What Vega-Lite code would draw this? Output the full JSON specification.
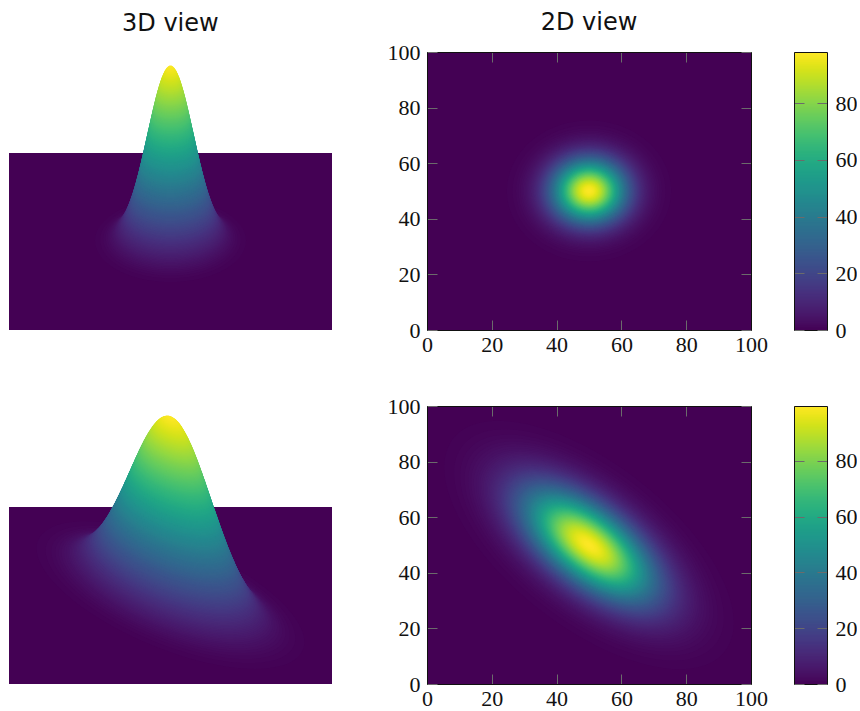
{"$schema":"https://vega.github.io/schema/vega-lite/v6.json","background":"white","padding":{"left":9,"top":11,"right":0,"bottom":0},"spacing":40,"resolve":{"scale":{"size":"independent","color":"independent"}},"config":{"view":{"stroke":null},"axis":{"labelFont":"Liberation Serif","labelFontSize":22,"labelColor":"#111","tickColor":"#6b6b6b","tickSize":-10,"tickWidth":1,"domainColor":"#111","domainWidth":1,"grid":false,"labelOverlap":false,"labelBound":false,"labelFlush":false,"labelPadding":17},"title":{"font":"DejaVu Sans","fontSize":24,"fontWeight":"normal","color":"#111","offset":6}},"datasets":{"plane":[{"x":0,"x2":100,"y":0,"y2":100}],"plane3a":[{"x":0,"x2":100,"y":-49.4,"y2":49.4}],"plane3b":[{"x":0,"x2":100,"y":-49,"y2":49.6}],"levels":[{"x":50,"y":50,"z":0.5},{"x":50,"y":50,"z":1},{"x":50,"y":50,"z":1.5},{"x":50,"y":50,"z":2},{"x":50,"y":50,"z":2.5},{"x":50,"y":50,"z":3},{"x":50,"y":50,"z":3.5},{"x":50,"y":50,"z":4},{"x":50,"y":50,"z":4.5},{"x":50,"y":50,"z":5},{"x":50,"y":50,"z":5.5},{"x":50,"y":50,"z":6},{"x":50,"y":50,"z":6.5},{"x":50,"y":50,"z":7},{"x":50,"y":50,"z":7.5},{"x":50,"y":50,"z":8},{"x":50,"y":50,"z":8.5},{"x":50,"y":50,"z":9},{"x":50,"y":50,"z":9.5},{"x":50,"y":50,"z":10},{"x":50,"y":50,"z":10.5},{"x":50,"y":50,"z":11},{"x":50,"y":50,"z":11.5},{"x":50,"y":50,"z":12},{"x":50,"y":50,"z":12.5},{"x":50,"y":50,"z":13},{"x":50,"y":50,"z":13.5},{"x":50,"y":50,"z":14},{"x":50,"y":50,"z":14.5},{"x":50,"y":50,"z":15},{"x":50,"y":50,"z":15.5},{"x":50,"y":50,"z":16},{"x":50,"y":50,"z":16.5},{"x":50,"y":50,"z":17},{"x":50,"y":50,"z":17.5},{"x":50,"y":50,"z":18},{"x":50,"y":50,"z":18.5},{"x":50,"y":50,"z":19},{"x":50,"y":50,"z":19.5},{"x":50,"y":50,"z":20},{"x":50,"y":50,"z":20.5},{"x":50,"y":50,"z":21},{"x":50,"y":50,"z":21.5},{"x":50,"y":50,"z":22},{"x":50,"y":50,"z":22.5},{"x":50,"y":50,"z":23},{"x":50,"y":50,"z":23.5},{"x":50,"y":50,"z":24},{"x":50,"y":50,"z":24.5},{"x":50,"y":50,"z":25},{"x":50,"y":50,"z":25.5},{"x":50,"y":50,"z":26},{"x":50,"y":50,"z":26.5},{"x":50,"y":50,"z":27},{"x":50,"y":50,"z":27.5},{"x":50,"y":50,"z":28},{"x":50,"y":50,"z":28.5},{"x":50,"y":50,"z":29},{"x":50,"y":50,"z":29.5},{"x":50,"y":50,"z":30},{"x":50,"y":50,"z":30.5},{"x":50,"y":50,"z":31},{"x":50,"y":50,"z":31.5},{"x":50,"y":50,"z":32},{"x":50,"y":50,"z":32.5},{"x":50,"y":50,"z":33},{"x":50,"y":50,"z":33.5},{"x":50,"y":50,"z":34},{"x":50,"y":50,"z":34.5},{"x":50,"y":50,"z":35},{"x":50,"y":50,"z":35.5},{"x":50,"y":50,"z":36},{"x":50,"y":50,"z":36.5},{"x":50,"y":50,"z":37},{"x":50,"y":50,"z":37.5},{"x":50,"y":50,"z":38},{"x":50,"y":50,"z":38.5},{"x":50,"y":50,"z":39},{"x":50,"y":50,"z":39.5},{"x":50,"y":50,"z":40},{"x":50,"y":50,"z":40.5},{"x":50,"y":50,"z":41},{"x":50,"y":50,"z":41.5},{"x":50,"y":50,"z":42},{"x":50,"y":50,"z":42.5},{"x":50,"y":50,"z":43},{"x":50,"y":50,"z":43.5},{"x":50,"y":50,"z":44},{"x":50,"y":50,"z":44.5},{"x":50,"y":50,"z":45},{"x":50,"y":50,"z":45.5},{"x":50,"y":50,"z":46},{"x":50,"y":50,"z":46.5},{"x":50,"y":50,"z":47},{"x":50,"y":50,"z":47.5},{"x":50,"y":50,"z":48},{"x":50,"y":50,"z":48.5},{"x":50,"y":50,"z":49},{"x":50,"y":50,"z":49.5},{"x":50,"y":50,"z":50},{"x":50,"y":50,"z":50.5},{"x":50,"y":50,"z":51},{"x":50,"y":50,"z":51.5},{"x":50,"y":50,"z":52},{"x":50,"y":50,"z":52.5},{"x":50,"y":50,"z":53},{"x":50,"y":50,"z":53.5},{"x":50,"y":50,"z":54},{"x":50,"y":50,"z":54.5},{"x":50,"y":50,"z":55},{"x":50,"y":50,"z":55.5},{"x":50,"y":50,"z":56},{"x":50,"y":50,"z":56.5},{"x":50,"y":50,"z":57},{"x":50,"y":50,"z":57.5},{"x":50,"y":50,"z":58},{"x":50,"y":50,"z":58.5},{"x":50,"y":50,"z":59},{"x":50,"y":50,"z":59.5},{"x":50,"y":50,"z":60},{"x":50,"y":50,"z":60.5},{"x":50,"y":50,"z":61},{"x":50,"y":50,"z":61.5},{"x":50,"y":50,"z":62},{"x":50,"y":50,"z":62.5},{"x":50,"y":50,"z":63},{"x":50,"y":50,"z":63.5},{"x":50,"y":50,"z":64},{"x":50,"y":50,"z":64.5},{"x":50,"y":50,"z":65},{"x":50,"y":50,"z":65.5},{"x":50,"y":50,"z":66},{"x":50,"y":50,"z":66.5},{"x":50,"y":50,"z":67},{"x":50,"y":50,"z":67.5},{"x":50,"y":50,"z":68},{"x":50,"y":50,"z":68.5},{"x":50,"y":50,"z":69},{"x":50,"y":50,"z":69.5},{"x":50,"y":50,"z":70},{"x":50,"y":50,"z":70.5},{"x":50,"y":50,"z":71},{"x":50,"y":50,"z":71.5},{"x":50,"y":50,"z":72},{"x":50,"y":50,"z":72.5},{"x":50,"y":50,"z":73},{"x":50,"y":50,"z":73.5},{"x":50,"y":50,"z":74},{"x":50,"y":50,"z":74.5},{"x":50,"y":50,"z":75},{"x":50,"y":50,"z":75.5},{"x":50,"y":50,"z":76},{"x":50,"y":50,"z":76.5},{"x":50,"y":50,"z":77},{"x":50,"y":50,"z":77.5},{"x":50,"y":50,"z":78},{"x":50,"y":50,"z":78.5},{"x":50,"y":50,"z":79},{"x":50,"y":50,"z":79.5},{"x":50,"y":50,"z":80},{"x":50,"y":50,"z":80.5},{"x":50,"y":50,"z":81},{"x":50,"y":50,"z":81.5},{"x":50,"y":50,"z":82},{"x":50,"y":50,"z":82.5},{"x":50,"y":50,"z":83},{"x":50,"y":50,"z":83.5},{"x":50,"y":50,"z":84},{"x":50,"y":50,"z":84.5},{"x":50,"y":50,"z":85},{"x":50,"y":50,"z":85.5},{"x":50,"y":50,"z":86},{"x":50,"y":50,"z":86.5},{"x":50,"y":50,"z":87},{"x":50,"y":50,"z":87.5},{"x":50,"y":50,"z":88},{"x":50,"y":50,"z":88.5},{"x":50,"y":50,"z":89},{"x":50,"y":50,"z":89.5},{"x":50,"y":50,"z":90},{"x":50,"y":50,"z":90.5},{"x":50,"y":50,"z":91},{"x":50,"y":50,"z":91.5},{"x":50,"y":50,"z":92},{"x":50,"y":50,"z":92.5},{"x":50,"y":50,"z":93},{"x":50,"y":50,"z":93.5},{"x":50,"y":50,"z":94},{"x":50,"y":50,"z":94.5},{"x":50,"y":50,"z":95},{"x":50,"y":50,"z":95.5},{"x":50,"y":50,"z":96},{"x":50,"y":50,"z":96.5},{"x":50,"y":50,"z":97},{"x":50,"y":50,"z":97.5},{"x":50,"y":50,"z":98},{"x":50,"y":50,"z":98.5},{"x":50,"y":50,"z":99},{"x":50,"y":50,"z":99.5},{"x":50,"y":50,"z":99.7}]},"vconcat":[{"bounds":"flush","spacing":43,"resolve":{"scale":{"size":"independent","color":"independent"}},"hconcat":[{"width":375,"height":278,"title":{"text":"3D view","anchor":"start","dx":113,"dy":-10},"layer":[{"data":{"name":"plane3a"},"mark":{"type":"rect","fill":"#440154"},"encoding":{"x":{"field":"x","type":"quantitative","scale":{"domain":[0,116.1],"nice":false},"axis":null},"x2":{"field":"x2"},"y":{"field":"y","type":"quantitative","scale":{"domain":[-49.4,105.8],"nice":false,"zero":false},"axis":null},"y2":{"field":"y2"}}},{"data":{"name":"levels"},"transform":[{"filter":"datum.z<=98"}],"mark":{"type":"point","filled":true,"opacity":1,"strokeWidth":0,"shape":"M 2.326 0 C 2.326 0.704 1.285 1.274 0 1.274 C -1.285 1.274 -2.326 0.704 -2.326 0 C -2.326 -0.704 -1.285 -1.274 0 -1.274 C 1.285 -1.274 2.326 -0.704 2.326 0 Z"},"encoding":{"x":{"field":"x","type":"quantitative","scale":{"domain":[0,116.1],"nice":false},"axis":null},"y":{"field":"z","type":"quantitative","scale":{"domain":[-49.4,105.8],"nice":false,"zero":false},"axis":null},"size":{"field":"z","type":"quantitative","legend":null,"scale":{"type":"log","domain":[98,0.5],"range":[0,4223],"nice":false,"zero":false}},"color":{"field":"z","type":"quantitative","legend":null,"scale":{"scheme":"viridis","domain":[0,98],"nice":false}}}}]},{"width":324,"height":278,"title":"2D view","resolve":{"axis":{"x":"independent","y":"independent"}},"layer":[{"data":{"name":"plane"},"mark":{"type":"rect","fill":"#440154"},"encoding":{"x":{"field":"x","type":"quantitative","scale":{"domain":[0,100],"nice":false},"axis":{"orient":"bottom","values":[0,20,40,60,80,100],"title":null,"zindex":1,"labelPadding":14}},"x2":{"field":"x2"},"y":{"field":"y","type":"quantitative","scale":{"domain":[0,100],"nice":false},"axis":{"orient":"left","values":[0,20,40,60,80,100],"title":null,"zindex":1}},"y2":{"field":"y2"}}},{"data":{"name":"levels"},"transform":[{"filter":"datum.z<=98"}],"mark":{"type":"point","filled":true,"opacity":1,"strokeWidth":0,"clip":true,"shape":"M 2.527 0 C 2.527 1.197 1.396 2.168 0 2.168 C -1.396 2.168 -2.527 1.197 -2.527 0 C -2.527 -1.197 -1.396 -2.168 0 -2.168 C 1.396 -2.168 2.527 -1.197 2.527 0 Z"},"encoding":{"x":{"field":"x","type":"quantitative","scale":{"domain":[0,100],"nice":false},"axis":{"orient":"top","values":[0,20,40,60,80,100],"labels":false,"title":null,"zindex":1}},"y":{"field":"y","type":"quantitative","scale":{"domain":[0,100],"nice":false},"axis":{"orient":"right","values":[0,20,40,60,80,100],"labels":false,"title":null,"zindex":1}},"size":{"field":"z","type":"quantitative","legend":null,"scale":{"type":"log","domain":[98,0.5],"range":[0,4223],"nice":false,"zero":false}},"color":{"field":"z","type":"quantitative","legend":null,"scale":{"scheme":"viridis","domain":[0,98],"nice":false}}}}]},{"width":33,"height":278,"resolve":{"axis":{"x":"independent","y":"independent"}},"layer":[{"data":{"name":"plane"},"mark":{"type":"rect","fill":"#440154","clip":true},"encoding":{"x":{"field":"x","type":"quantitative","scale":{"domain":[0,100],"nice":false},"axis":{"orient":"bottom","ticks":false,"labels":false,"title":null,"zindex":1}},"x2":{"field":"x2"},"y":{"field":"y","type":"quantitative","scale":{"domain":[0,98],"nice":false},"axis":{"orient":"left","values":[0,20,40,60,80],"labels":false,"title":null,"zindex":1}},"y2":{"field":"y2"}}},{"data":{"name":"levels"},"transform":[{"filter":"datum.z<=98"}],"mark":{"type":"rule","strokeWidth":3,"clip":true},"encoding":{"x":{"datum":0,"type":"quantitative","scale":{"domain":[0,100],"nice":false},"axis":{"orient":"top","ticks":false,"labels":false,"title":null,"zindex":1}},"x2":{"datum":100},"y":{"field":"z","type":"quantitative","scale":{"domain":[0,98],"nice":false},"axis":{"orient":"right","values":[0,20,40,60,80],"title":null,"zindex":1,"labelPadding":18}},"color":{"field":"z","type":"quantitative","legend":null,"scale":{"scheme":"viridis","domain":[0,98],"nice":false}}}}]}]},{"bounds":"flush","spacing":43,"resolve":{"scale":{"size":"independent","color":"independent"}},"hconcat":[{"width":375,"height":278,"layer":[{"data":{"name":"plane3b"},"mark":{"type":"rect","fill":"#440154"},"encoding":{"x":{"field":"x","type":"quantitative","scale":{"domain":[0,116.1],"nice":false},"axis":null},"x2":{"field":"x2"},"y":{"field":"y","type":"quantitative","scale":{"domain":[-49,105.85],"nice":false,"zero":false},"axis":null},"y2":{"field":"y2"}}},{"data":{"name":"levels"},"mark":{"type":"point","filled":true,"opacity":1,"strokeWidth":0,"shape":"M 3.72 2.05 C 4.692 1.515 3.815 0.163 1.76 -0.969 C -0.295 -2.101 -2.748 -2.585 -3.72 -2.05 C -4.692 -1.515 -3.815 -0.163 -1.76 0.969 C 0.295 2.101 2.748 2.585 3.72 2.05 Z"},"encoding":{"x":{"field":"x","type":"quantitative","scale":{"domain":[0,116.1],"nice":false},"axis":null},"y":{"field":"z","type":"quantitative","scale":{"domain":[-49,105.85],"nice":false,"zero":false},"axis":null},"size":{"field":"z","type":"quantitative","legend":null,"scale":{"type":"log","domain":[99.7,0.5],"range":[0,4236],"nice":false,"zero":false}},"color":{"field":"z","type":"quantitative","legend":null,"scale":{"scheme":"viridis","domain":[0,99.7],"nice":false}}}}]},{"width":324,"height":278,"resolve":{"axis":{"x":"independent","y":"independent"}},"layer":[{"data":{"name":"plane"},"mark":{"type":"rect","fill":"#440154"},"encoding":{"x":{"field":"x","type":"quantitative","scale":{"domain":[0,100],"nice":false},"axis":{"orient":"bottom","values":[0,20,40,60,80,100],"title":null,"zindex":1,"labelPadding":14}},"x2":{"field":"x2"},"y":{"field":"y","type":"quantitative","scale":{"domain":[0,100],"nice":false},"axis":{"orient":"left","values":[0,20,40,60,80,100],"title":null,"zindex":1}},"y2":{"field":"y2"}}},{"data":{"name":"levels"},"mark":{"type":"point","filled":true,"opacity":1,"strokeWidth":0,"clip":true,"shape":"M 4.01 3.44 C 5.073 2.529 4.14 0.25 1.925 -1.65 C -0.29 -3.55 -2.947 -4.351 -4.01 -3.44 C -5.073 -2.529 -4.14 -0.25 -1.925 1.65 C 0.29 3.55 2.947 4.351 4.01 3.44 Z"},"encoding":{"x":{"field":"x","type":"quantitative","scale":{"domain":[0,100],"nice":false},"axis":{"orient":"top","values":[0,20,40,60,80,100],"labels":false,"title":null,"zindex":1}},"y":{"field":"y","type":"quantitative","scale":{"domain":[0,100],"nice":false},"axis":{"orient":"right","values":[0,20,40,60,80,100],"labels":false,"title":null,"zindex":1}},"size":{"field":"z","type":"quantitative","legend":null,"scale":{"type":"log","domain":[99.7,0.5],"range":[0,4236],"nice":false,"zero":false}},"color":{"field":"z","type":"quantitative","legend":null,"scale":{"scheme":"viridis","domain":[0,99.7],"nice":false}}}}]},{"width":33,"height":278,"resolve":{"axis":{"x":"independent","y":"independent"}},"layer":[{"data":{"name":"plane"},"mark":{"type":"rect","fill":"#440154","clip":true},"encoding":{"x":{"field":"x","type":"quantitative","scale":{"domain":[0,100],"nice":false},"axis":{"orient":"bottom","ticks":false,"labels":false,"title":null,"zindex":1}},"x2":{"field":"x2"},"y":{"field":"y","type":"quantitative","scale":{"domain":[0,99.7],"nice":false},"axis":{"orient":"left","values":[0,20,40,60,80],"labels":false,"title":null,"zindex":1}},"y2":{"field":"y2"}}},{"data":{"name":"levels"},"mark":{"type":"rule","strokeWidth":3,"clip":true},"encoding":{"x":{"datum":0,"type":"quantitative","scale":{"domain":[0,100],"nice":false},"axis":{"orient":"top","ticks":false,"labels":false,"title":null,"zindex":1}},"x2":{"datum":100},"y":{"field":"z","type":"quantitative","scale":{"domain":[0,99.7],"nice":false},"axis":{"orient":"right","values":[0,20,40,60,80],"title":null,"zindex":1,"labelPadding":18}},"color":{"field":"z","type":"quantitative","legend":null,"scale":{"scheme":"viridis","domain":[0,99.7],"nice":false}}}}]}]}]}
